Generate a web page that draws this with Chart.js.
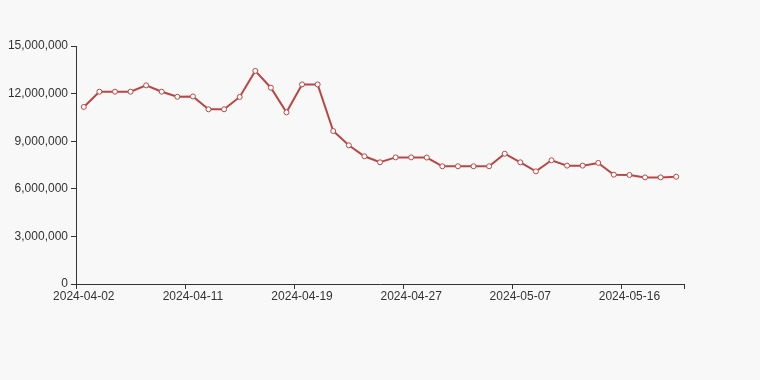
<!DOCTYPE html>
<html>
<head>
<meta charset="utf-8">
<script src="https://cdn.jsdelivr.net/npm/chart.js@4/dist/chart.umd.min.js"></script>
<style>
  html, body { margin: 0; padding: 0; background: #f8f8f8; }
  #wrap { width: 760px; height: 380px; position: relative; }
</style>
</head>
<body>
<div id="wrap"><canvas id="c" width="760" height="380"></canvas></div>
<script>
const categories = [
  '2024-04-02','2024-04-03','2024-04-04','2024-04-07','2024-04-08','2024-04-09','2024-04-10',
  '2024-04-11','2024-04-12','2024-04-14','2024-04-15','2024-04-16','2024-04-17','2024-04-18',
  '2024-04-19','2024-04-20','2024-04-21','2024-04-22','2024-04-23','2024-04-24','2024-04-26',
  '2024-04-27','2024-04-28','2024-04-29','2024-04-30','2024-05-04','2024-05-05','2024-05-06',
  '2024-05-07','2024-05-08','2024-05-09','2024-05-10','2024-05-11','2024-05-13','2024-05-14',
  '2024-05-16','2024-05-17','2024-05-18','2024-05-20'
];
const values = [
  11160000, 12120000, 12120000, 12120000, 12520000, 12120000, 11800000,
  11820000, 11010000, 11010000, 11790000, 13430000, 12370000, 10820000,
  12580000, 12580000, 9640000, 8740000, 8050000, 7670000, 7980000,
  7980000, 7970000, 7420000, 7420000, 7420000, 7420000, 8210000,
  7670000, 7100000, 7800000, 7460000, 7460000, 7630000, 6890000,
  6870000, 6720000, 6720000, 6760000
];
const labelEvery = 7;
const yMin = 0, yMax = 15000000, yStep = 3000000;

const axisColor = '#333';
const textColor = '#333';
Chart.defaults.font.family = '"Liberation Sans", Arial, sans-serif';
Chart.defaults.font.size = 12;
Chart.defaults.color = textColor;

new Chart(document.getElementById('c'), {
  type: 'line',
  data: {
    labels: categories,
    datasets: [{
      data: values,
      borderColor: '#b84644',
      borderWidth: 2,
      backgroundColor: '#ffffff',
      pointBackgroundColor: '#ffffff',
      pointBorderColor: '#b84644',
      pointBorderWidth: 1,
      pointRadius: 2.5,
      tension: 0,
      fill: false
    }]
  },
  options: {
    responsive: false,
    animation: false,
    layout: { padding: { left: 0, right: 76, top: 46, bottom: 76 } },
    plugins: { legend: { display: false }, tooltip: { enabled: false } },
    scales: {
      x: {
        type: 'category',
        offset: true,
        border: { color: axisColor, width: 1 },
        grid: {
          offset: true,
          drawOnChartArea: false,
          drawTicks: true,
          tickLength: 5,
          color: ctx => (ctx.index === undefined || ctx.index % labelEvery === 0) ? axisColor : 'rgba(0,0,0,0)'
        },
        ticks: {
          autoSkip: false,
          maxRotation: 0,
          padding: 0,
          color: textColor,
          callback: function (v, i) { return i % labelEvery === 0 ? this.getLabelForValue(v) : ''; }
        },
        afterFit: s => { s.height = 20; }
      },
      y: {
        min: yMin,
        max: yMax,
        border: { color: axisColor, width: 1 },
        grid: { drawOnChartArea: false, drawTicks: true, tickLength: 5, color: axisColor },
        ticks: {
          stepSize: yStep,
          padding: 3,
          color: textColor,
          callback: v => v.toLocaleString('en-US')
        },
        afterFit: s => { s.width = 76; }
      }
    }
  }
});
</script>
</body>
</html>
